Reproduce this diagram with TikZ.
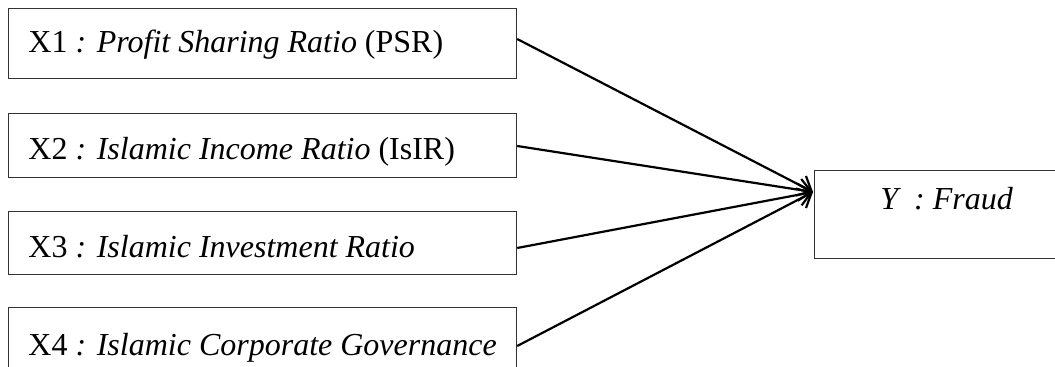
\documentclass[tikz,border=0pt]{standalone}
\usepackage{fontspec}
\setmainfont{Liberation Serif}
\usetikzlibrary{arrows.meta,calc}
\begin{document}
\begin{tikzpicture}[x=0.5pt,y=-0.5pt,
  box/.style={draw=black!80, line width=0.6pt, rectangle, inner sep=0pt, anchor=north west},
  lbl/.style={inner sep=0pt, anchor=base west, font=\fontsize{16pt}{19pt}\selectfont},
  conn/.style={line width=1.1pt, -{Straight Barb[length=6pt,width=11pt,line width=1.1pt]}}]
\useasboundingbox (0,0) rectangle (1055,367);
\clip (0,0) rectangle (1055,367);
\node[box, minimum width=254pt, minimum height=35pt] (b1) at (8,8) {};
\node[box, minimum width=254pt, minimum height=32pt] (b2) at (8,113) {};
\node[box, minimum width=254pt, minimum height=31.5pt] (b3) at (8,211) {};
\node[box, minimum width=254pt, minimum height=39pt] (b4) at (8,307) {};
\node[box, minimum width=130pt, minimum height=44pt] (y) at (814,170) {};
\node[lbl] (t1) at (28,53) {X1 \textit{: Profit Sharing Ratio} (PSR)};
\node[lbl] (t2) at (28,160) {X2 \textit{: Islamic Income Ratio} (IsIR)};
\node[lbl] (t3) at (28,258) {X3 \textit{: Islamic Investment Ratio}};
\node[lbl] (t4) at (28,356) {X4 \textit{: Islamic Corporate Governance}};
\node[lbl] (ty) at (880,210) {\textit{Y \ : Fraud}};
\coordinate (tip) at ($(y.north west)+(-1,22)$);
\coordinate (s1) at ($(b1.north east)+(0,31)$);
\coordinate (s2) at ($(b2.north east)+(0,33)$);
\coordinate (s3) at ($(b3.north east)+(0,37)$);
\coordinate (s4) at ($(b4.north east)+(0,39)$);
\draw[conn] (s1) -- (tip);
\draw[conn] (s2) -- (tip);
\draw[conn] (s3) -- (tip);
\draw[conn] (s4) -- (tip);
\end{tikzpicture}
\end{document}
